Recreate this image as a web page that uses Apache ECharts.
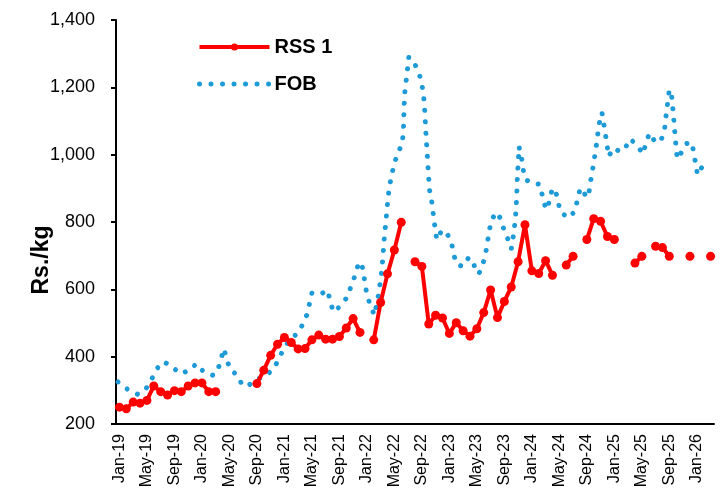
<!DOCTYPE html>
<html>
<head>
<meta charset="utf-8">
<script src="https://cdn.jsdelivr.net/npm/echarts@6/dist/echarts.min.js"></script>
<style>
  html, body { margin: 0; padding: 0; background: #fff; }
  #chart { width: 728px; height: 494px; }
</style>
</head>
<body>
<div id="chart"></div>
<script>
// 月份类目 Jan-19 .. Mar-26
var monthNames = ['Jan', 'Feb', 'Mar', 'Apr', 'May', 'Jun', 'Jul', 'Aug', 'Sep', 'Oct', 'Nov', 'Dec'];
var months = [];
for (var y = 19; y <= 26; y++) {
	for (var m = 0; m < 12; m++) {
		if (y == 26 && m > 2) break;
		months.push(monthNames[m] + '-' + y);
	}
}

// RSS 1 monthly (Rs./kg), null = no value
var rss1 = [
	250, 245, 265, 262, 270, 313, 296, 286, 299, 296, 313, 322,
	322, 296, 296, null, null, null, null, null, 320, 360, 404, 437,
	457, 442, 423, 424, 450, 464, 452, 452, 460, 485, 513, 472,
	null, 450, 561, 646, 717, 799, null, 682, 668, 497, 523, 515,
	469, 501, 477, 461, 483, 531, 598, 516, 564, 607, 682, 792,
	655, 647, 685, 642, null, 672, 698, null, 748, 810, 802, 757,
	748, null, null, 678, 698, null, 728, 724, 698, null, null, 698,
	null, null, 698
];

// FOB (finer than monthly): position in months from Jan-19, value
var fobT = [
	0.3, 1.8, 3.2, 4.4, 5.2, 5.9, 6.85, 8.1, 9.2, 10.5, 11.7, 12.7,
	14.2, 14.9, 15.7, 16.1, 16.6, 17.7, 18.4, 19.2, 20.5, 21.9, 23.0, 23.6,
	24.4, 25.2, 26.4, 27.2, 27.8, 28.5, 29.8, 30.75, 31.6, 32.7, 33.6, 34.7,
	35.15, 35.7, 36.0, 36.5, 37.0, 37.6, 38.2, 38.7, 39.0, 39.3, 39.6, 39.8,
	40.1, 40.45, 40.9, 41.6, 41.8, 41.95, 42.05, 42.25, 42.6, 43.2, 43.9, 44.4,
	44.65, 44.85, 45.1, 45.3, 45.6, 45.9, 46.5, 46.7, 47.4, 48.1, 48.8, 49.1,
	49.5, 50.4, 51.3, 51.95, 52.3, 52.8, 53.4, 53.8, 54.3, 54.6, 55.3, 55.9,
	56.4, 57.0, 57.5, 57.7, 57.9, 58.1, 58.3, 58.4, 58.5, 58.65, 58.8, 59.0,
	59.2, 59.5, 60.35, 61.65, 62.0, 62.4, 62.75, 63.1, 63.5, 63.9, 64.3, 64.6,
	65.75, 66.8, 67.1, 67.45, 67.8, 68.45, 68.8, 69.0, 69.3, 69.8, 70.2, 70.45,
	70.7, 70.95, 71.2, 71.45, 71.65, 72.45, 73.3, 74.05, 74.8, 75.9, 76.65, 77.1,
	77.6, 78.25, 79.1, 79.75, 80.1, 80.5, 80.8, 81.1, 81.35, 81.65, 82.2, 83.0,
	83.8, 84.05, 84.35, 84.6, 85.0, 85.5
];
var fobV = [
	325, 301, 288, 306, 334, 363, 385, 373, 350, 357, 379, 356,
	344, 366, 424, 393, 362, 344, 314, 314, 332, 346, 364, 392,
	422, 449, 469, 497, 526, 589, 586, 598, 533, 551, 576, 637,
	668, 681, 648, 584, 553, 523, 584, 660, 745, 810, 876, 907,
	939, 970, 1000, 1031, 1063, 1160, 1193, 1226, 1290, 1280, 1251, 1221,
	1189, 1156, 1059, 995, 897, 866, 768, 747, 776, 768, 740, 708,
	676, 668, 694, 685, 655, 646, 677, 709, 773, 804, 829, 812,
	780, 750, 720, 742, 774, 807, 874, 937, 971, 1024, 998, 991,
	960, 928, 916, 912, 881, 849, 837, 869, 900, 895, 865, 832,
	812, 832, 864, 893, 901, 872, 886, 917, 950, 1015, 1078, 1110,
	1125, 1093, 1061, 1029, 995, 1020, 1009, 1018, 1047, 1026, 1002, 1033,
	1064, 1044, 1036, 1064, 1129, 1193, 1183, 1118, 1053, 987, 1005, 1033,
	1036, 1004, 972, 940, 950, 980
];

var yTicks = { min: 200, max: 1400, step: 200 };

var fobData = [];
for (var i = 0; i < fobT.length; i++) {
	fobData.push([fobT[i], fobV[i]]);
}

var myChart = echarts.init(document.getElementById('chart'));
var font = 'Liberation Sans, Arial, sans-serif';
var red = '#FF0000', blue = '#1E9BD7';
var dotLine = { width: 5, color: blue, type: [0.01, 11.5], cap: 'round', join: 'round' };

var option = {
	animation: false,
	textStyle: { fontFamily: font },
	color: [red, blue],
	legend: {
		orient: 'vertical',
		left: 197,
		top: 37,
		padding: 0,
		itemWidth: 70,
		itemHeight: 9,
		itemGap: 17,
		textStyle: { fontSize: 20, fontWeight: 'bold', color: '#000', fontFamily: font, lineHeight: 20 },
		data: [{
			name: 'RSS 1',
			lineStyle: { width: 4, color: red }
		}, {
			name: 'FOB',
			itemStyle: { opacity: 0 },
			lineStyle: dotLine
		}]
	},
	grid: { left: 116, right: 14, top: 20, bottom: 70 },
	graphic: [{
		type: 'text',
		x: 42,
		y: 260,
		rotation: Math.PI / 2,
		style: {
			text: 'Rs./kg',
			font: 'bold 23px ' + font,
			fill: '#000',
			align: 'center',
			verticalAlign: 'middle'
		}
	}],
	xAxis: [{
		type: 'category',
		data: months,
		boundaryGap: true,
		axisLine: { lineStyle: { color: '#000', width: 2 } },
		axisTick: { interval: 3, length: 5, lineStyle: { color: '#000', width: 2 } },
		axisLabel: { interval: 3, rotate: 90, fontSize: 16, color: '#000', margin: 10, fontFamily: font },
		splitLine: { show: false }
	}, {
		type: 'value',
		show: false,
		min: 0,
		max: months.length
	}],
	yAxis: {
		type: 'value',
		min: yTicks.min,
		max: yTicks.max,
		interval: yTicks.step,
		axisLine: { show: true, lineStyle: { color: '#000', width: 2 } },
		axisTick: { show: true, length: 5, lineStyle: { color: '#000', width: 2 } },
		axisLabel: {
			fontSize: 18, color: '#000', margin: 21, fontFamily: font,
			formatter: function (v) { return v.toString().replace(/\B(?=(\d{3})+(?!\d))/g, ','); }
		},
		splitLine: { show: false }
	},
	series: [{
		name: 'RSS 1',
		type: 'line',
		data: rss1,
		connectNulls: false,
		showAllSymbol: true,
		symbol: 'circle',
		symbolSize: 9,
		lineStyle: { width: 4, color: red },
		itemStyle: { color: red },
		z: 3
	}, {
		name: 'FOB',
		type: 'line',
		xAxisIndex: 1,
		data: fobData,
		showSymbol: false,
		symbol: 'none',
		lineStyle: dotLine,
		itemStyle: { color: blue },
		z: 2
	}]
};

myChart.setOption(option);
</script>
</body>
</html>
